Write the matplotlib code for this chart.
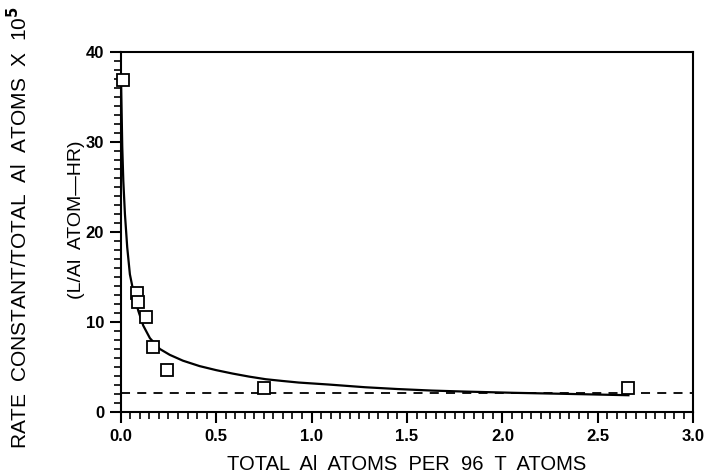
import matplotlib
matplotlib.use('Agg')
import matplotlib.pyplot as plt
from matplotlib.ticker import MultipleLocator

plt.rcParams['font.family'] = ['Liberation Sans', 'DejaVu Sans']

# measured points
al_atoms = [0.013, 0.083, 0.088, 0.13, 0.167, 0.24, 0.753, 2.66]
rate = [36.9, 13.2, 12.2, 10.6, 7.2, 4.7, 2.7, 2.7]

# fitted curve
curve_x = [0.002, 0.005, 0.008, 0.0135, 0.022, 0.034, 0.048, 0.069, 0.092,
           0.118, 0.153, 0.205, 0.257, 0.326, 0.413, 0.50, 0.586, 0.673,
           0.76, 0.846, 0.933, 1.09, 1.28, 1.45, 1.63, 1.80, 2.06, 2.41,
           2.62, 2.66]
curve_y = [36.5, 33.0, 29.5, 25.7, 22.0, 18.3, 15.3, 13.1, 11.25,
           9.6, 8.2, 7.0, 6.35, 5.7, 5.1, 4.65, 4.27, 3.93,
           3.64, 3.45, 3.27, 3.05, 2.75, 2.55, 2.38, 2.27, 2.13, 1.98,
           1.88, 1.86]

# dashed baseline level
baseline = 2.1

fig = plt.figure(figsize=(7.06, 4.73), dpi=100)
ax = fig.add_axes([0.171, 0.129, 0.811, 0.761])

ax.plot(curve_x, curve_y, color='black', lw=1.6)
ax.axhline(baseline, color='black', lw=1.3, ls=(0, (5, 4)))
ax.plot(al_atoms, rate, ls='none', marker='s', ms=9, mfc='white',
        mec='black', mew=1.3, clip_on=False, zorder=5)

ax.set_xlim(0, 3.0)
ax.set_ylim(0, 40)
ax.xaxis.set_major_locator(MultipleLocator(0.5))
ax.xaxis.set_minor_locator(MultipleLocator(0.05))
ax.yaxis.set_major_locator(MultipleLocator(10))
ax.yaxis.set_minor_locator(MultipleLocator(1))
ax.xaxis.set_major_formatter(plt.FormatStrFormatter('%.1f'))

ax.tick_params(which='major', direction='out', length=8, width=1.5,
               labelsize=12, pad=4)
ax.tick_params(which='minor', direction='out', length=5, width=1.2)
for lab in ax.get_xticklabels() + ax.get_yticklabels():
    lab.set_fontweight('bold')
for s in ax.spines.values():
    s.set_linewidth(1.5)

ax.set_xlabel('TOTAL  Al  ATOMS  PER  96  T  ATOMS', fontsize=14.5,
              labelpad=8)
fig.text(0.027, 0.52, 'RATE  CONSTANT/TOTAL  Al  ATOMS  X  10$^{\\mathbf{5}}$',
         rotation=90, fontsize=15, ha='center', va='center')
fig.text(0.108, 0.535, '(L/Al  ATOM\u2014HR)', rotation=90, fontsize=14,
         ha='center', va='center')

fig.savefig('out.png', dpi=100)
